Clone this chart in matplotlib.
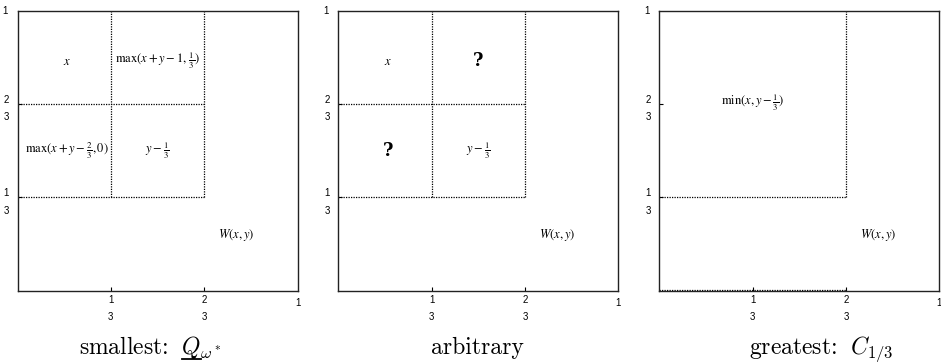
import matplotlib
matplotlib.use("Agg")
import matplotlib.pyplot as plt
from matplotlib.lines import Line2D

# panel titles
titles = [r"smallest: $\;Q_{\omega^*}$", "arbitrary", r"greatest: $\;C_{1/3}$"]

# tick positions and labels (stacked numerator/denominator, no bar)
ticks = [1 / 3, 2 / 3]
tick_labels = ["1\n3", "2\n3"]

# dotted segments per panel: (x0, x1, y0, y1)
segments = [
    [(1/3, 1/3, 1/3, 1), (2/3, 2/3, 1/3, 1), (0, 2/3, 2/3, 2/3), (0, 2/3, 1/3, 1/3)],
    [(1/3, 1/3, 1/3, 1), (2/3, 2/3, 1/3, 1), (0, 2/3, 2/3, 2/3), (0, 2/3, 1/3, 1/3)],
    [(2/3, 2/3, 1/3, 1), (0, 2/3, 1/3, 1/3), (0, 2/3, 0.003, 0.003)],
]

# region labels per panel: (x, y, text, bold)
labels = [
    [(0.177, 0.82, r"$x$", False),
     (0.50, 0.82, r"$\max(x+y-1,\,\frac{1}{3})$", False),
     (0.177, 0.50, r"$\max(x+y-\frac{2}{3},0)$", False),
     (0.50, 0.50, r"$y-\frac{1}{3}$", False),
     (0.78, 0.20, r"$W(x,y)$", False)],
    [(0.177, 0.82, r"$x$", False),
     (0.50, 0.82, "?", True),
     (0.177, 0.50, "?", True),
     (0.50, 0.50, r"$y-\frac{1}{3}$", False),
     (0.78, 0.20, r"$W(x,y)$", False)],
    [(0.335, 0.67, r"$\min(x,y-\frac{1}{3})$", False),
     (0.78, 0.20, r"$W(x,y)$", False)],
]

lefts = [17.5, 338.3, 659.3]
title_x = [150, 477, 821]
W, H = 941, 363

fig = plt.figure(figsize=(9.41, 3.63), dpi=100)
plt.rcParams["mathtext.fontset"] = "cm"
title_kw = dict(fontsize=17, family="cmr10")

title_texts = []
for i in range(3):
    ax = fig.add_axes([lefts[i] / W, (H - 290.7) / H, 280 / W, 280 / H])
    ax.set_xlim(0, 1)
    ax.set_ylim(0, 1)
    for s in ax.spines.values():
        s.set_linewidth(1.0)
        s.set_color("#222222")
    ax.set_xticks(ticks)
    ax.set_yticks(ticks)
    ax.set_xticklabels(tick_labels, fontsize=7, family="Liberation Sans", linespacing=1.9)
    ax.set_yticklabels(tick_labels, fontsize=7, family="Liberation Sans", linespacing=1.9)
    ax.tick_params(direction="in", length=3, width=0.8, pad=3)
    ax.tick_params(axis="y", pad=6)
    # corner "1" labels
    ax.text(-0.045, 1.0, "1", transform=ax.transAxes, fontsize=7,
            family="Liberation Sans", ha="center", va="center")
    ax.text(1.0, -0.045, "1", transform=ax.transAxes, fontsize=7,
            family="Liberation Sans", ha="center", va="center")

    for x0, x1, y0, y1 in segments[i]:
        ax.plot([x0, x1], [y0, y1], color="black", linestyle=(0, (1, 1)), lw=0.9)

    for x, y, t, bold in labels[i]:
        if bold:
            ax.text(x, y, t, fontsize=13, family="DejaVu Serif", weight="bold",
                    ha="center", va="center")
        else:
            ax.text(x, y, t, fontsize=9, math_fontfamily="stix",
                    ha="center", va="center")

    title_texts.append(fig.text(title_x[i] / W, 1 - 354 / H, titles[i],
                                ha="center", va="baseline", **title_kw))

# underline under Q in the first title, measured from the rendered text
fig.canvas.draw()
r = fig.canvas.get_renderer()
bb = title_texts[0].get_window_extent(r)
tmp1 = fig.text(0, 0, r"smallest: $\;Q$", **title_kw)
tmp2 = fig.text(0, 0, r"$Q$", **title_kw)
q_end = bb.x0 + tmp1.get_window_extent(r).width
qw = tmp2.get_window_extent(r).width
tmp1.remove()
tmp2.remove()
yb = 1 - 359 / H
fig.add_artist(Line2D([(q_end - qw) / W, q_end / W], [yb, yb],
                      transform=fig.transFigure, color="black", lw=1.3))

fig.savefig("out.png", dpi=100)
